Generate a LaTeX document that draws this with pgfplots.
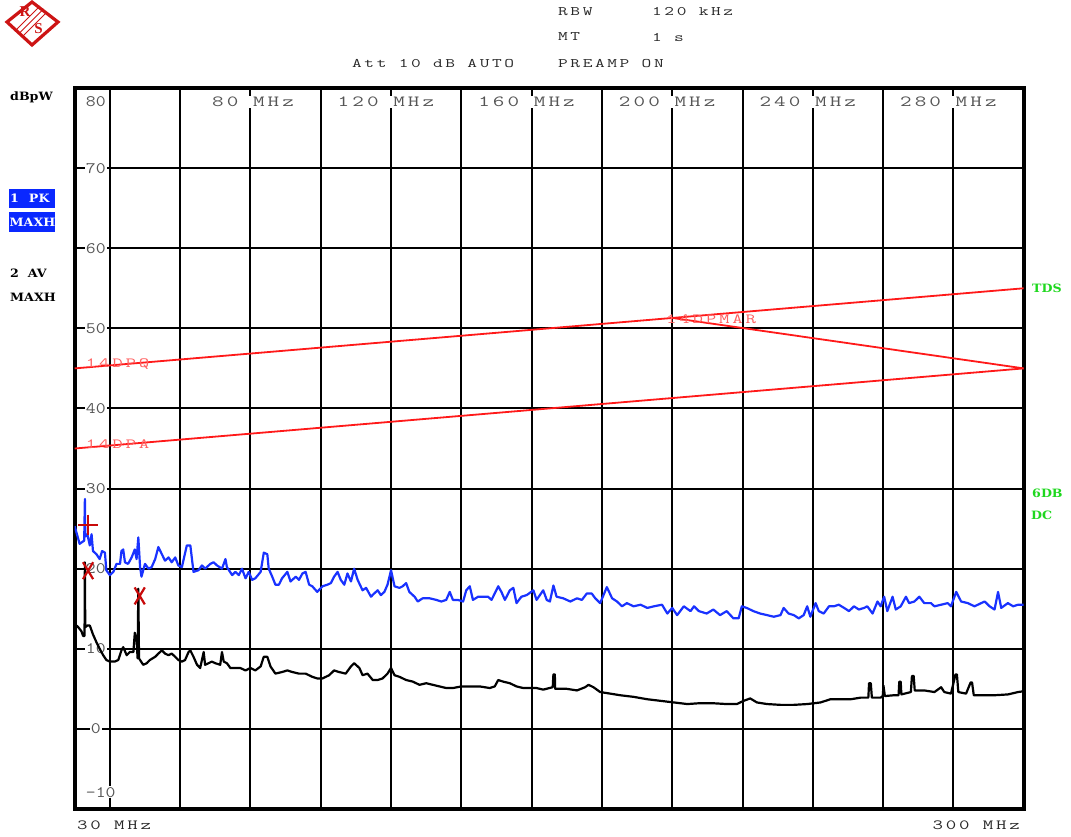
\documentclass[border=0pt]{standalone}
\usepackage{fontspec}
\usepackage{pgfplots}
\pgfplotsset{compat=1.18}
\setmainfont{Liberation Serif}
\newfontfamily\rsmono[FakeStretch=1.45, LetterSpace=20]{Latin Modern Mono}
\newfontfamily\tickfont[FakeStretch=1.2]{Latin Modern Mono}
\newfontfamily\bdfont[FakeStretch=1.1]{DejaVu Serif}
\definecolor{trblue}{RGB}{25,50,255}
\definecolor{boxblue}{RGB}{10,40,255}
\definecolor{lgreen}{RGB}{30,215,30}
\definecolor{limred}{RGB}{255,25,25}
\definecolor{limtxt}{RGB}{255,95,95}
\definecolor{mkred}{RGB}{200,10,10}
\definecolor{tickgray}{RGB}{85,85,85}
\definecolor{hdrgray}{RGB}{40,40,40}
\definecolor{logored}{RGB}{205,20,20}
\begin{document}
\begin{tikzpicture}[x=1pt,y=1pt,
  hdr/.style={anchor=west, inner sep=0pt, text=hdrgray, font=\rsmono\fontsize{13}{13}\selectfont},
  bd/.style={anchor=west, inner sep=0pt, font=\bdfont\bfseries\fontsize{11.5}{11.5}\selectfont},
  ylab/.style={fill=white, inner sep=1pt, text=tickgray, font=\tickfont\fontsize{16}{16}\selectfont},
  xlab/.style={fill=white, inner sep=1.5pt, anchor=west, text=tickgray, font=\rsmono\fontsize{15.5}{15.5}\selectfont},
  limlab/.style={anchor=west, inner sep=0pt, text=limtxt, font=\rsmono\fontsize{14}{14}\selectfont}]
\useasboundingbox (0,0) rectangle (1071,836);

% R&S logo
\begin{scope}[logored]
  \draw[line width=3.2pt] (32,834) -- (58,814) -- (32,791) -- (7,814) -- cycle;
  \draw[line width=1pt] (16,806) -- (40,830);
  \draw[line width=1pt] (19.5,803) -- (43.5,827);
  \draw[line width=1pt] (23,800) -- (47,824);
  \node[inner sep=0pt, font=\bfseries\fontsize{15}{15}\selectfont, text=logored] at (25,824) {R};
  \node[inner sep=0pt, font=\bfseries\fontsize{15}{15}\selectfont, text=logored] at (38.5,807.5) {S};
\end{scope}

% header
\node[hdr] at (558,824) {RBW};
\node[hdr] at (652,824) {120 kHz};
\node[hdr] at (558,799) {MT};
\node[hdr] at (652,799) {1 s};
\node[hdr] at (352,772) {Att 10 dB AUTO};
\node[hdr] at (558,772) {PREAMP ON};

% left panel
\node[bd] at (10,739) {dBpW};
\fill[boxblue] (9,628) rectangle (55,647);
\node[bd, text=white] at (10,637.5) {1\hspace{10pt}PK};
\fill[boxblue] (9,604) rectangle (55,624);
\node[bd, text=white] at (9.5,614) {MAXH};
\node[bd] at (10,563) {2\hspace{9pt}AV};
\node[bd] at (10,539) {MAXH};

% right panel
\node[bd, text=lgreen] at (1032,548) {TDS};
\node[bd, text=lgreen] at (1032,343) {6DB};
\node[bd, text=lgreen] at (1031,321) {DC};

% bottom
\node[anchor=west, inner sep=0pt, text=hdrgray, font=\rsmono\fontsize{14}{14}\selectfont] at (77,11) {30 MHz};
\node[anchor=east, inner sep=0pt, text=hdrgray, font=\rsmono\fontsize{14}{14}\selectfont] at (1020,11) {300 MHz};

\begin{axis}[
  at={(74.7pt,27pt)}, anchor=south west,
  width=949pt, height=721pt, scale only axis,
  xmin=30, xmax=300, ymin=-10, ymax=80,
  xtick={40,60,...,280}, ytick={0,10,...,70},
  xticklabels={}, yticklabels={},
  major tick length=0pt,
  grid=major,
  major grid style={black, line width=2pt},
  axis line style={black, line width=4pt},
  axis on top=false,
]
% y labels
\node[ylab] at (axis cs:36,78.25) {80};
\node[ylab] at (axis cs:36,70) {70};
\node[ylab] at (axis cs:36,60) {60};
\node[ylab] at (axis cs:36,50) {50};
\node[ylab] at (axis cs:36,40) {40};
\node[ylab] at (axis cs:36,30) {30};
\node[ylab] at (axis cs:36,20) {20};
\node[ylab] at (axis cs:36,10) {10};
\node[ylab] at (axis cs:36,0) {0};
\node[ylab] at (axis cs:37.4,-7.9) {-10};
% x labels on top
\node[xlab, xshift=-40pt] at (axis cs:80,78.25) {80 MHz};
\node[xlab, xshift=-55pt] at (axis cs:120,78.25) {120 MHz};
\node[xlab, xshift=-55pt] at (axis cs:160,78.25) {160 MHz};
\node[xlab, xshift=-55pt] at (axis cs:200,78.25) {200 MHz};
\node[xlab, xshift=-55pt] at (axis cs:240,78.25) {240 MHz};
\node[xlab, xshift=-55pt] at (axis cs:280,78.25) {280 MHz};

% limit lines
\addplot[limred, line width=1.8pt] coordinates {(30,45) (300,55)};
\addplot[limred, line width=1.8pt] coordinates {(30,35) (300,45)};
\addplot[limred, line width=1.8pt] coordinates {(200,51.3) (300,45)};
\node[limlab] at (axis cs:33.1,45.5) {14DPQ};
\node[limlab] at (axis cs:33.1,35.6) {14DPA};
\node[limlab] at (axis cs:198.2,51.1) {14DPMAR};

% trace 1: peak (blue)
\addplot[trblue, line width=2.2pt, line join=round] coordinates {
(30.0,25.3) (31.4,23.1) (32.7,23.5) (32.9,28.7) (33.0,24.0) (33.6,24.3) (34.3,22.9) (34.8,24.3) (35.2,22.2) (36.2,21.8) (37.1,21.2) (37.8,22.2) (38.6,22.0) (39.0,19.8) (40.0,19.2) (41.0,19.6) (41.9,20.6) (42.9,20.6) (43.3,22.2) (43.8,22.4) (44.3,20.8) (45.2,20.6) (46.2,21.4) (47.1,22.4) (47.6,21.2) (48.1,23.9) (48.6,20.2) (49.0,19.0) (50.0,20.6) (51.0,20.0) (51.9,20.2) (52.9,21.2) (53.8,22.7) (54.8,21.8) (55.7,21.0) (56.7,21.4) (57.6,20.8) (58.6,21.4) (59.5,20.4) (60.5,20.2) (61.9,22.9) (62.9,22.9) (63.8,19.6) (65.2,19.8) (66.2,20.4) (67.1,20.0) (68.6,20.6) (69.5,20.8) (70.5,20.4) (71.9,20.0) (72.9,21.2) (73.3,20.2) (74.8,19.2) (75.7,19.6) (76.7,19.2) (77.6,20.0) (78.6,18.8) (79.5,19.6) (80.5,18.6) (81.4,18.8) (82.9,19.6) (83.8,22.0) (84.8,21.8) (85.2,20.0) (86.2,19.0) (87.1,18.0) (88.1,18.0) (89.0,18.8) (90.5,19.6) (91.4,18.4) (92.9,19.0) (93.8,18.6) (94.8,19.4) (95.7,19.6) (96.7,18.0) (97.6,17.8) (99.0,17.1) (100.5,17.8) (101.9,18.0) (102.9,18.2) (103.8,19.0) (104.8,19.6) (105.7,18.6) (106.7,18.0) (107.6,19.4) (108.6,18.4) (109.5,20.0) (110.5,18.6) (111.9,17.3) (112.9,17.6) (114.3,16.5) (115.2,16.9) (116.2,17.3) (117.1,16.7) (118.1,17.1) (119.0,18.0) (120.0,19.8) (121.0,17.8) (122.4,17.6) (123.3,17.8) (124.3,18.2) (125.2,17.1) (126.7,16.5) (127.6,15.9) (129.0,16.3) (131.0,16.3) (132.9,16.1) (134.3,15.9) (135.7,16.1) (136.7,17.1) (137.6,16.1) (139.0,16.1) (140.5,15.9) (141.4,17.3) (142.4,17.8) (143.3,16.1) (144.8,16.5) (146.2,16.5) (147.6,16.5) (148.6,16.1) (150.5,17.8) (151.4,17.1) (152.4,16.1) (153.8,17.3) (154.8,17.6) (155.7,15.7) (157.1,16.5) (158.6,16.7) (160.5,17.3) (161.4,16.1) (163.3,17.3) (164.3,16.1) (165.2,15.9) (166.2,17.9) (167.1,16.5) (169.0,16.3) (171.0,15.9) (172.9,16.3) (174.3,16.1) (175.7,16.9) (177.1,16.9) (178.1,16.3) (179.5,15.7) (181.4,17.7) (182.9,16.3) (184.3,15.9) (185.7,15.3) (187.1,15.7) (189.0,15.3) (191.0,15.5) (192.9,15.1) (194.8,15.3) (197.1,15.5) (198.6,14.4) (200.0,15.1) (201.4,14.2) (203.3,15.3) (205.2,14.7) (206.2,15.3) (207.6,14.7) (209.8,14.4) (211.7,14.9) (213.6,14.2) (215.5,14.7) (217.4,13.8) (218.9,13.8) (219.8,15.3) (221.2,15.1) (223.1,14.7) (225.0,14.4) (227.0,14.2) (228.9,14.0) (230.8,14.2) (231.7,15.1) (233.1,14.4) (234.6,14.2) (236.0,13.8) (237.4,14.2) (238.4,15.3) (239.3,14.0) (240.8,15.7) (241.7,14.7) (243.1,14.4) (244.6,15.3) (246.0,15.3) (247.4,15.5) (248.9,15.1) (250.3,14.7) (251.7,15.3) (253.1,14.9) (254.6,15.1) (255.5,15.3) (257.0,14.4) (258.4,15.9) (259.3,15.3) (260.3,16.5) (261.2,14.7) (262.7,16.5) (263.6,14.9) (265.0,15.3) (266.5,16.5) (267.4,15.7) (268.9,15.9) (270.3,16.5) (271.7,15.7) (273.6,15.7) (274.6,15.3) (276.5,15.5) (278.4,15.7) (279.3,15.3) (280.8,17.1) (282.2,15.9) (284.1,15.7) (286.0,15.3) (287.9,15.7) (288.9,15.9) (290.3,15.3) (291.7,14.9) (292.7,17.1) (293.6,15.1) (295.5,15.7) (297.0,15.3) (298.4,15.5) (300.0,15.5)
};

% trace 2: average (black)
\addplot[black, line width=2.2pt, line join=round] coordinates {
(30.0,13.1) (31.0,12.7) (31.9,12.2) (32.4,11.6) (32.8,11.6) (32.9,20.8) (33.0,12.7) (33.6,12.9) (34.3,12.9) (35.2,11.8) (36.2,10.8) (37.1,10.0) (38.1,9.2) (39.0,8.6) (40.0,8.4) (41.4,8.4) (42.4,8.6) (43.3,9.8) (43.8,10.2) (44.8,9.2) (45.7,9.6) (46.7,9.6) (47.1,12.0) (47.6,11.2) (47.9,8.8) (48.1,17.5) (48.3,8.8) (49.5,8.0) (50.5,8.2) (51.4,8.6) (52.9,9.0) (53.8,9.4) (54.8,9.8) (55.7,9.4) (56.7,9.2) (57.6,9.4) (58.6,9.0) (59.5,8.6) (60.5,8.4) (61.4,8.6) (62.4,9.6) (62.9,9.8) (63.8,9.0) (64.8,8.0) (65.7,7.6) (66.7,9.6) (67.1,8.0) (68.1,8.2) (69.0,8.4) (70.0,8.2) (71.4,8.0) (71.9,9.6) (72.4,8.4) (73.3,8.2) (74.3,7.6) (75.7,7.6) (77.1,7.6) (78.6,7.3) (80.0,7.6) (81.4,7.3) (82.9,7.8) (83.8,9.0) (84.8,9.0) (85.7,7.8) (87.1,6.9) (89.0,7.1) (90.5,7.3) (91.9,7.1) (93.8,6.9) (95.7,6.9) (97.6,6.5) (99.0,6.3) (100.5,6.3) (102.4,6.7) (103.8,7.3) (105.2,7.1) (107.1,6.9) (108.6,7.8) (109.5,8.2) (111.0,7.6) (111.9,6.7) (113.3,6.9) (114.8,6.1) (116.2,6.1) (117.6,6.3) (119.0,6.9) (120.0,7.6) (121.0,6.7) (122.4,6.5) (124.3,6.1) (126.2,5.9) (128.1,5.5) (130.0,5.7) (131.9,5.5) (133.8,5.3) (135.7,5.1) (137.6,5.1) (140.0,5.3) (142.4,5.3) (145.2,5.3) (148.1,5.1) (149.5,5.3) (150.5,6.1) (151.9,5.9) (153.8,5.7) (155.7,5.3) (157.6,5.1) (159.5,5.1) (161.4,5.1) (163.3,4.9) (166.0,5.2) (166.2,6.8) (166.6,6.8) (166.7,5.0) (170.0,5.0) (172.9,4.8) (175.2,5.2) (176.2,5.5) (177.6,5.2) (179.5,4.6) (182.4,4.4) (185.2,4.2) (189.0,4.0) (192.9,3.7) (196.7,3.5) (200.5,3.3) (204.3,3.1) (207.6,3.2) (211.7,3.2) (215.5,3.1) (218.4,3.1) (220.3,3.5) (222.2,3.8) (224.1,3.3) (227.0,3.1) (230.8,3.0) (234.6,3.0) (238.4,3.1) (242.2,3.3) (245.0,3.7) (247.9,3.7) (250.8,3.7) (253.6,3.9) (255.8,3.9) (256.0,5.7) (256.5,5.7) (256.8,3.9) (259.3,3.9) (259.9,4.1) (260.1,5.4) (260.5,4.1) (263.1,4.2) (264.4,4.2) (264.6,5.9) (265.0,5.9) (265.2,4.3) (267.9,4.6) (268.2,6.6) (268.7,6.6) (269.0,4.8) (271.7,4.8) (274.6,4.6) (276.5,5.2) (277.4,4.6) (279.3,4.4) (280.6,6.8) (281.0,6.8) (281.4,4.6) (283.6,4.4) (284.9,5.8) (285.3,5.8) (285.8,4.2) (288.9,4.2) (291.7,4.2) (295.5,4.3) (298.4,4.6) (300.0,4.7)
};

% markers
\addplot[only marks, mark=+, mark size=10, mkred, mark options={line width=2.2pt}] coordinates {(33.8,25.5)};
\addplot[only marks, mark=x, mark size=12, mkred, mark options={line width=2.2pt, xscale=0.6}] coordinates {(33.8,19.75) (48.5,16.6)};
\end{axis}
\end{tikzpicture}
\end{document}
